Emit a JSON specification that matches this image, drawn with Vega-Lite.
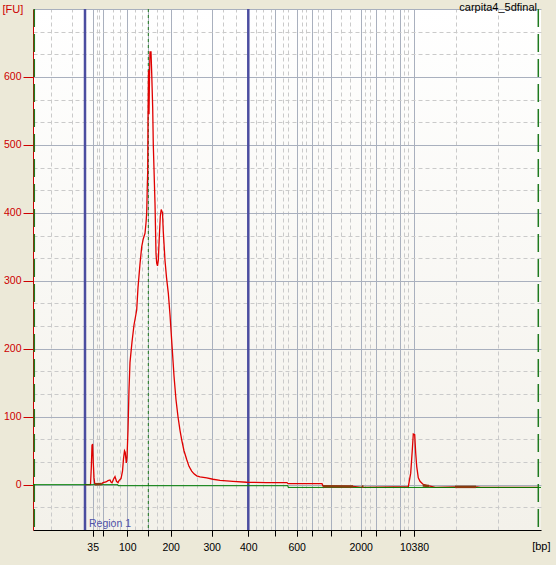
{
  "$schema": "https://vega.github.io/schema/vega-lite/v6.json",
  "autosize": "none",
  "width": 508,
  "height": 521,
  "padding": {"left": 33, "top": 9, "right": 15, "bottom": 35},
  "background": "#ECE9D8",
  "config": {
    "view": {
      "stroke": null,
      "fill": {
        "gradient": "linear",
        "x1": 0, "y1": 0, "x2": 0, "y2": 1,
        "stops": [
          {"offset": 0, "color": "#FFFFFF"},
          {"offset": 1, "color": "#F3F1EA"}
        ]
      }
    }
  },
  "resolve": {"axis": {"x": "independent", "y": "independent"}},
  "datasets": {
    "trace": [
      {"t": 30.4, "fu": 0}, {"t": 31.5, "fu": 0}, {"t": 31.66, "fu": 25}, {"t": 31.8, "fu": 58},
      {"t": 31.92, "fu": 60}, {"t": 32.04, "fu": 35}, {"t": 32.2, "fu": 10}, {"t": 32.36, "fu": 1},
      {"t": 32.4, "fu": 0.8}, {"t": 33.74, "fu": 1.2}, {"t": 33.8, "fu": 1.5}, {"t": 34.0, "fu": 3},
      {"t": 34.6, "fu": 4}, {"t": 35.0, "fu": 6}, {"t": 35.4, "fu": 7}, {"t": 35.6, "fu": 4},
      {"t": 35.8, "fu": 3}, {"t": 36.1, "fu": 8}, {"t": 36.4, "fu": 12}, {"t": 36.7, "fu": 5},
      {"t": 37.0, "fu": 3}, {"t": 37.2, "fu": 6}, {"t": 37.6, "fu": 9}, {"t": 37.9, "fu": 20},
      {"t": 38.1, "fu": 38}, {"t": 38.3, "fu": 50}, {"t": 38.44, "fu": 48}, {"t": 38.66, "fu": 32},
      {"t": 38.8, "fu": 40}, {"t": 39.0, "fu": 80}, {"t": 39.2, "fu": 140}, {"t": 39.4, "fu": 180},
      {"t": 39.8, "fu": 210}, {"t": 40.2, "fu": 235}, {"t": 40.74, "fu": 257}, {"t": 41.0, "fu": 290},
      {"t": 41.4, "fu": 325}, {"t": 41.74, "fu": 350}, {"t": 42.06, "fu": 362}, {"t": 42.4, "fu": 370},
      {"t": 42.6, "fu": 385}, {"t": 42.74, "fu": 400}, {"t": 42.86, "fu": 440}, {"t": 42.94, "fu": 460},
      {"t": 43.0, "fu": 540}, {"t": 43.1, "fu": 610}, {"t": 43.2, "fu": 545}, {"t": 43.3, "fu": 600},
      {"t": 43.4, "fu": 637}, {"t": 43.6, "fu": 637}, {"t": 43.74, "fu": 606}, {"t": 43.94, "fu": 554},
      {"t": 44.06, "fu": 500}, {"t": 44.4, "fu": 414}, {"t": 44.6, "fu": 340}, {"t": 44.74, "fu": 326},
      {"t": 44.9, "fu": 322}, {"t": 45.06, "fu": 330}, {"t": 45.26, "fu": 365}, {"t": 45.46, "fu": 395},
      {"t": 45.64, "fu": 405}, {"t": 45.9, "fu": 400}, {"t": 46.06, "fu": 372}, {"t": 46.4, "fu": 330},
      {"t": 46.7, "fu": 305}, {"t": 47.06, "fu": 282}, {"t": 47.4, "fu": 250}, {"t": 47.8, "fu": 205},
      {"t": 48.2, "fu": 160}, {"t": 48.6, "fu": 125}, {"t": 49.0, "fu": 100}, {"t": 49.4, "fu": 80},
      {"t": 49.74, "fu": 66}, {"t": 50.2, "fu": 50}, {"t": 50.74, "fu": 37}, {"t": 51.2, "fu": 27},
      {"t": 51.74, "fu": 20}, {"t": 52.2, "fu": 16}, {"t": 52.74, "fu": 13}, {"t": 53.4, "fu": 11.5},
      {"t": 54.74, "fu": 10}, {"t": 56.0, "fu": 8}, {"t": 57.4, "fu": 6.4}, {"t": 60.0, "fu": 5},
      {"t": 62.74, "fu": 3.6}, {"t": 66.74, "fu": 3}, {"t": 70.8, "fu": 3}, {"t": 71.0, "fu": 1.5},
      {"t": 77.8, "fu": 1.5}, {"t": 78.0, "fu": -2.2}, {"t": 84.0, "fu": -2.6}, {"t": 85.8, "fu": -4},
      {"t": 95.06, "fu": -3}, {"t": 95.54, "fu": 17}, {"t": 95.86, "fu": 51}, {"t": 96.06, "fu": 74.5},
      {"t": 96.34, "fu": 73.5}, {"t": 96.54, "fu": 46.6}, {"t": 96.74, "fu": 27}, {"t": 97.06, "fu": 10},
      {"t": 97.4, "fu": 5}, {"t": 97.94, "fu": 1}, {"t": 98.74, "fu": -1.5}, {"t": 99.4, "fu": -2},
      {"t": 100.5, "fu": -4}, {"t": 104.4, "fu": -3.4}, {"t": 108.8, "fu": -3.4}, {"t": 109.5, "fu": -4},
      {"t": 121.0, "fu": -4}
    ],
    "brown": [
      {"seg": "a", "t": 32.4, "fu": 0.8}, {"seg": "a", "t": 33.74, "fu": 1.2},
      {"seg": "b", "t": 78.0, "fu": -2.2}, {"seg": "b", "t": 84.0, "fu": -2.6},
      {"seg": "c", "t": 85.74, "fu": -2.8}, {"seg": "c", "t": 86.1, "fu": -2.8},
      {"seg": "d", "t": 97.94, "fu": -1.3}, {"seg": "d", "t": 99.2, "fu": -1.8},
      {"seg": "e", "t": 104.4, "fu": -3.2}, {"seg": "e", "t": 108.6, "fu": -3.2}
    ],
    "baseline": [
      {"t": 20, "fu": 0}, {"t": 37.0, "fu": 0}, {"t": 37.0, "fu": -1.5},
      {"t": 71.0, "fu": -1.5}, {"t": 71.0, "fu": -4}, {"t": 121.6, "fu": -4}
    ],
    "markers": [
      {"kind": "region", "t": 30.4},
      {"kind": "region", "t": 63.06},
      {"kind": "edge", "t": 20.26},
      {"kind": "edge", "t": 121.06},
      {"kind": "mid", "t": 43.06}
    ],
    "labels": [
      {"label": "Region 1", "t": 30.4}
    ],
    "sample": [
      {"name": "carpita4_5dfinal"}
    ]
  },
  "layer": [
    {
      "data": {"name": "markers"},
      "transform": [{"filter": "datum.kind == 'region'"}],
      "mark": {"type": "rule", "color": "#4B4DA0", "strokeWidth": 2.5},
      "encoding": {
        "x": {
          "field": "t",
          "type": "quantitative",
          "scale": {"domain": [20, 121.6], "nice": false, "zero": false},
          "axis": {
            "orient": "bottom",
            "values": [23.54, 27.74, 31.94, 32.74, 33.26, 33.94, 36.06, 37.46, 38.86, 40.4, 41.74, 43.06, 44.86, 46.06, 47.54, 50.06, 52.74, 55.74, 58.06, 60.6, 63.06, 64.6, 66.06, 67.54, 68.4, 69.94, 71.06, 72.74, 73.74, 74.6, 75.74, 77.06, 78.06, 79.54, 81.54, 83.4, 85.54, 86.4, 87.4, 88.6, 90.4, 91.94, 93.3, 94.2, 95.0, 96.2, 104.6, 113.06],
            "labels": false,
            "domain": false,
            "title": null,
            "ticks": true,
            "tickColor": "#000000",
            "tickSize": 6,
            "tickOpacity": {"condition": {"test": "indexof([31.94,33.94,38.86,43.06,47.54,55.74,63.06,68.4,72.74,75.74,79.54,85.54,88.6,93.3,96.2], datum.value) < 0", "value": 0}, "value": 1},
            "grid": true,
            "gridColor": {"condition": {"test": "indexof([31.94,33.94,38.86,43.06,47.54,55.74,63.06,68.4,72.74,75.74,79.54,85.54,88.6,93.3,96.2], datum.value) < 0", "value": "#CACACA"}, "value": "#A9B0BE"},
            "gridDash": {"condition": {"test": "indexof([31.94,33.94,38.86,43.06,47.54,55.74,63.06,68.4,72.74,75.74,79.54,85.54,88.6,93.3,96.2], datum.value) < 0", "value": [4, 3]}, "value": []},
            "gridWidth": 1
          }
        }
      }
    },
    {
      "data": {"name": "markers"},
      "transform": [{"filter": "datum.kind == 'edge'"}],
      "mark": {"type": "rule", "color": "#1F7A1F", "strokeWidth": 1.5, "strokeDash": [18, 7]},
      "encoding": {"x": {"field": "t", "type": "quantitative", "axis": null}}
    },
    {
      "data": {"name": "markers"},
      "transform": [{"filter": "datum.kind == 'mid'"}],
      "mark": {"type": "rule", "color": "#1F7A1F", "strokeWidth": 1, "strokeDash": [3, 3]},
      "encoding": {"x": {"field": "t", "type": "quantitative", "axis": null}}
    },
    {
      "data": {"name": "baseline"},
      "mark": {"type": "line", "color": "#008000", "strokeWidth": 1, "opacity": 0},
      "encoding": {
        "x": {"field": "t", "type": "quantitative", "axis": null},
        "y": {
          "field": "fu",
          "type": "quantitative",
          "scale": {"domain": [-66.6667, 700], "nice": false, "zero": false},
          "axis": {
            "orient": "left",
            "values": [-66.6667, -33.3333, 0, 33.3333, 66.6667, 100, 133.3333, 166.6667, 200, 233.3333, 266.6667, 300, 333.3333, 366.6667, 400, 433.3333, 466.6667, 500, 533.3333, 566.6667, 600, 633.3333, 666.6667, 700],
            "labels": false,
            "ticks": false,
            "domain": false,
            "title": null,
            "grid": true,
            "gridColor": {"condition": {"test": "datum.value % 100 != 0", "value": "#CACACA"}, "value": "#A9B0BE"},
            "gridDash": {"condition": {"test": "datum.value % 100 != 0", "value": [4, 3]}, "value": []},
            "gridWidth": 1
          }
        }
      }
    },
    {
      "data": {"name": "trace"},
      "mark": {"type": "line", "color": "#E00000", "strokeWidth": 1.3, "interpolate": "linear"},
      "encoding": {
        "x": {
          "field": "t",
          "type": "quantitative",
          "axis": {
            "orient": "bottom",
            "values": [31.94, 38.86, 47.54, 55.74, 63.06, 72.74, 85.54, 96.2],
            "labelExpr": "datum.value == 31.94 ? '35' : datum.value == 38.86 ? '100' : datum.value == 47.54 ? '200' : datum.value == 55.74 ? '300' : datum.value == 63.06 ? '400' : datum.value == 72.74 ? '600' : datum.value == 85.54 ? '2000' : datum.value == 96.2 ? '10380' : ''",
            "labelOverlap": false,
            "labelFlush": false,
            "labelBound": false,
            "labelFont": "Liberation Sans",
            "labelFontSize": 10.5,
            "labelColor": "#000000",
            "labelBaseline": "alphabetic",
            "labelPadding": 14,
            "tickColor": "#000000",
            "tickSize": 6,
            "domainColor": "#000000",
            "domainWidth": 1,
            "grid": false,
            "title": "[bp]",
            "titleFont": "Liberation Sans",
            "titleFontSize": 11,
            "titleFontWeight": "normal",
            "titleColor": "#000000",
            "titleAlign": "right",
            "titleBaseline": "alphabetic",
            "titleX": 517,
            "titleY": 19
          }
        },
        "y": {
          "field": "fu",
          "type": "quantitative",
          "axis": {
            "orient": "left",
            "values": [0, 100, 200, 300, 400, 500, 600],
            "labelOverlap": false,
            "labelFlush": false,
            "labelBound": false,
            "labelFont": "Liberation Sans",
            "labelFontSize": 10.5,
            "labelColor": "#CC0000",
            "labelPadding": 2,
            "labelBaseline": "middle",
            "tickColor": "#CC0000",
            "tickSize": 10,
            "domainColor": "#CC0000",
            "domainWidth": 1,
            "grid": false,
            "title": "[FU]",
            "titleFont": "Liberation Sans",
            "titleFontSize": 11,
            "titleFontWeight": "normal",
            "titleColor": "#CC0000",
            "titleAngle": 0,
            "titleAlign": "left",
            "titleBaseline": "alphabetic",
            "titleX": -31,
            "titleY": 3
          }
        }
      }
    },
    {
      "data": {"name": "baseline"},
      "mark": {"type": "line", "color": "#008000", "strokeWidth": 1},
      "encoding": {
        "x": {"field": "t", "type": "quantitative", "axis": null},
        "y": {"field": "fu", "type": "quantitative", "axis": null}
      }
    },
    {
      "data": {"name": "brown"},
      "mark": {"type": "line", "color": "#8A3B0E", "strokeWidth": 2.5},
      "encoding": {
        "x": {"field": "t", "type": "quantitative", "axis": null},
        "y": {"field": "fu", "type": "quantitative", "axis": null},
        "detail": {"field": "seg"}
      }
    },
    {
      "data": {"name": "labels"},
      "mark": {"type": "text", "font": "Liberation Sans", "fontSize": 10.5, "color": "#4F50A8", "align": "left", "baseline": "alphabetic", "dx": 4, "dy": -3},
      "encoding": {
        "x": {"field": "t", "type": "quantitative", "axis": null},
        "y": {"datum": -66.6667, "axis": null},
        "text": {"field": "label"}
      }
    },
    {
      "data": {"name": "sample"},
      "mark": {"type": "text", "font": "Liberation Sans", "fontSize": 11, "color": "#000000", "align": "right", "baseline": "alphabetic", "dx": -4, "dy": 2},
      "encoding": {
        "x": {"datum": 121.6, "axis": null},
        "y": {"datum": 700, "axis": null},
        "text": {"field": "name"}
      }
    }
  ]
}
